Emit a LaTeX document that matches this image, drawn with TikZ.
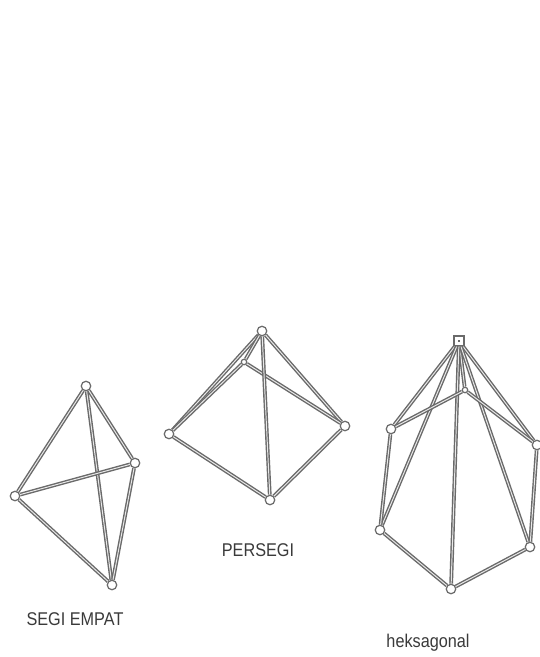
\documentclass[tikz,border=0pt]{standalone}
\usepackage{fontspec}
\setmainfont[FakeStretch=0.88]{Liberation Sans}
\definecolor{ink}{HTML}{3A3A3A}
\definecolor{wire}{HTML}{6A6A6A}
\tikzset{
  vertex/.style={circle,draw=wire,fill=white,line width=0.7pt,inner sep=0pt,minimum size=0.19cm},
  backvertex/.style={vertex,minimum size=0.11cm},
  topvertex/.style={rectangle,draw=wire,fill=white,line width=0.7pt,inner sep=0pt,minimum size=0.2cm},
  topdot/.style={rectangle,fill=wire,inner sep=0pt,minimum size=0.05cm},
  rod/.style={draw=wire,line width=0.8pt,double=white!85!wire,double distance=0.55pt},
  caption/.style={color=ink,font=\fontsize{10.5}{12}\selectfont,inner sep=0pt}
}
\begin{document}
\begin{tikzpicture}[x=0.02cm,y=-0.02cm]
        \useasboundingbox (0,0) rectangle (540,657);
        \fill[white] (0,0) rectangle (540,657);
        % four-sided figure
        \node[vertex] (sa) at (86,386) {};
        \node[vertex] (sb) at (135,463) {};
        \node[vertex] (sc) at (15,496) {};
        \node[vertex] (sd) at (112,585) {};
        \draw[rod] (sa) -- (sc);
        \draw[rod] (sa) -- (sb);
        \draw[rod] (sa) -- (sd);
        \draw[rod] (sc) -- (sb);
        \draw[rod] (sc) -- (sd);
        \draw[rod] (sb) -- (sd);
        \node[caption] (scap) at (75,619) {SEGI EMPAT};
        % square pyramid
        \node[vertex] (pa) at (262,331) {};
        \node[backvertex] (pb) at (244,362) {};
        \node[vertex] (pc) at (169,434) {};
        \node[vertex] (pd) at (345,426) {};
        \node[vertex] (pe) at (270,500) {};
        \draw[rod] (pa) -- (pc);
        \draw[rod] (pb) -- (pc);
        \draw[rod] (pa) -- (pb);
        \draw[rod] (pa) -- (pd);
        \draw[rod] (pb) -- (pd);
        \draw[rod] (pa) -- (pe);
        \draw[rod] (pc) -- (pe);
        \draw[rod] (pd) -- (pe);
        \node[caption] (pcap) at (258,550) {PERSEGI};
        % hexagonal pyramid
        \node[topvertex] (ha) at (459,341) {};
        \node[topdot] (hdot) at (ha) {};
        \node[backvertex] (hb) at (465,390) {};
        \node[vertex] (hc) at (391,429) {};
        \node[vertex] (hd) at (537,445) {};
        \node[vertex] (he) at (380,530) {};
        \node[vertex] (hf) at (530,547) {};
        \node[vertex] (hg) at (451,589) {};
        \foreach \v in {hb,hc,hd,he,hf,hg}
          \draw[rod] (ha) -- (\v);
        \draw[rod] (hb) -- (hc);
        \draw[rod] (hb) -- (hd);
        \draw[rod] (hc) -- (he);
        \draw[rod] (hd) -- (hf);
        \draw[rod] (he) -- (hg);
        \draw[rod] (hf) -- (hg);
        \node[caption] (hcap) at (428,643) {heksagonal};
      \end{tikzpicture}
\end{document}
